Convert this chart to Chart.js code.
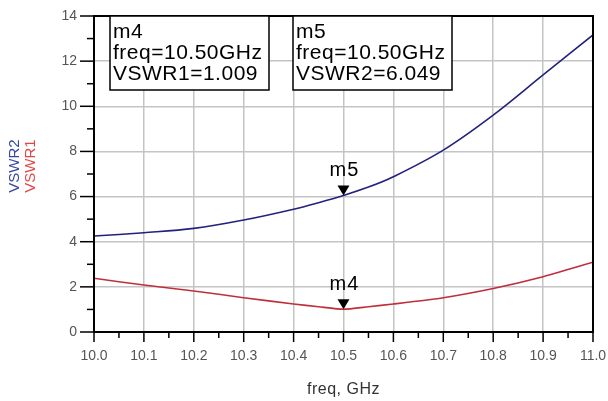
<!doctype html>
<html lang="en">
<head>
    <meta charset="utf-8">
    <title>VSWR vs freq</title>
    <style>
        html, body { margin: 0; padding: 0; background: #fff; }
        #wrap { width: 608px; height: 401px; }
    </style>
</head>
<body>
    <div id="wrap"><canvas id="myChart" width="608" height="401"></canvas></div>

    <script src="https://cdn.jsdelivr.net/npm/chart.js"></script>
    <script>
        // data
        var freq  = [10.0, 10.1, 10.2, 10.3, 10.4, 10.45, 10.5, 10.55, 10.6, 10.7, 10.8, 10.9, 11.0];
        var vswr1 = [2.38, 2.08, 1.82, 1.52, 1.24, 1.12, 1.009, 1.12, 1.24, 1.52, 1.93, 2.45, 3.09];
        var vswr2 = [4.25, 4.40, 4.59, 4.96, 5.44, 5.73, 6.049, 6.42, 6.88, 8.06, 9.61, 11.39, 13.16];

        var markers = [
            { name: 'm4', trace: 'VSWR1', freq: 10.5, value: 1.009 },
            { name: 'm5', trace: 'VSWR2', freq: 10.5, value: 6.049 }
        ];

        var blue = '#22227e';
        var red = '#bf2f3b';
        var FONT = '"Liberation Sans", Arial, sans-serif';

        function pts(xs, ys) {
            return xs.map((x, i) => ({ x: x, y: ys[i] }));
        }

        // frame, ticks, markers, marker boxes, axis titles
        var adsPlugin = {
            id: 'ads',
            afterDatasetsDraw(chart) {
                var ctx = chart.ctx;
                var a = chart.chartArea;
                var xs = chart.scales.x, ys = chart.scales.y;
                ctx.save();

                // frame
                ctx.strokeStyle = '#000';
                ctx.lineWidth = 2;
                ctx.strokeRect(a.left, a.top, a.right - a.left, a.bottom - a.top);

                // y ticks
                ctx.lineWidth = 1.5;
                for (var v = 0; v <= 14; v++) {
                    var py = ys.getPixelForValue(v);
                    var len = v % 2 === 0 ? 14 : 7;
                    ctx.beginPath();
                    ctx.moveTo(a.left - len, py);
                    ctx.lineTo(a.left, py);
                    ctx.stroke();
                }
                // x ticks
                for (var k = 0; k <= 20; k++) {
                    var px = xs.getPixelForValue(10 + k * 0.05);
                    var l2 = k % 2 === 0 ? 10 : 6;
                    ctx.beginPath();
                    ctx.moveTo(px, a.bottom);
                    ctx.lineTo(px, a.bottom + l2);
                    ctx.stroke();
                }

                // markers
                markers.forEach(m => {
                    var mx = xs.getPixelForValue(m.freq);
                    var my = ys.getPixelForValue(m.value);
                    ctx.fillStyle = '#000';
                    ctx.beginPath();
                    ctx.moveTo(mx, my);
                    ctx.lineTo(mx - 6, my - 10);
                    ctx.lineTo(mx + 6, my - 10);
                    ctx.closePath();
                    ctx.fill();
                    ctx.font = '20px ' + FONT;
                    ctx.textAlign = 'center';
                    ctx.textBaseline = 'middle';
                    ctx.letterSpacing = '1px';
                    ctx.fillText(m.name, mx + 1, my - 25);
                });

                // marker readout boxes
                var boxLeft = [a.left + 16, a.left + 199];
                markers.forEach((m, i) => {
                    var bx = boxLeft[i], by = a.top, bw = 159, bh = 74;
                    ctx.fillStyle = '#fff';
                    ctx.fillRect(bx, by, bw, bh);
                    ctx.strokeStyle = '#000';
                    ctx.lineWidth = 1.5;
                    ctx.strokeRect(bx, by, bw, bh);
                    ctx.fillStyle = '#000';
                    ctx.font = '21px ' + FONT;
                    ctx.textAlign = 'left';
                    ctx.textBaseline = 'middle';
                    ctx.letterSpacing = '0.5px';
                    ctx.fillText(m.name, bx + 3, by + 16);
                    ctx.fillText('freq=' + m.freq.toFixed(2) + 'GHz', bx + 3, by + 37);
                    ctx.fillText(m.trace + '=' + m.value.toFixed(3), bx + 3, by + 58);
                });

                // y titles
                ctx.letterSpacing = '0px';
                ctx.font = '15px ' + FONT;
                ctx.textAlign = 'center';
                ctx.textBaseline = 'middle';
                [['VSWR2', '#3646a2', 15], ['VSWR1', '#e04848', 31]].forEach(t => {
                    ctx.save();
                    ctx.translate(t[2], 166);
                    ctx.rotate(-Math.PI / 2);
                    ctx.fillStyle = t[1];
                    ctx.fillText(t[0], 0, 0);
                    ctx.restore();
                });

                // x title
                ctx.fillStyle = '#333';
                ctx.font = '16px ' + FONT;
                ctx.letterSpacing = '0.5px';
                ctx.fillText('freq, GHz', xs.getPixelForValue(10.5), 390);

                ctx.restore();
            }
        };

        new Chart('myChart', {
            type: 'line',
            data: {
                datasets: [{
                    label: 'VSWR2',
                    data: pts(freq, vswr2),
                    borderColor: blue,
                    borderWidth: 1.6,
                    pointRadius: 0,
                    tension: 0.35,
                    fill: false
                }, {
                    label: 'VSWR1',
                    data: pts(freq, vswr1),
                    borderColor: red,
                    borderWidth: 1.6,
                    pointRadius: 0,
                    tension: 0.2,
                    fill: false
                }]
            },
            options: {
                responsive: false,
                animation: false,
                layout: { padding: { left: 0, top: 16, right: 15, bottom: 0 } },
                plugins: {
                    legend: { display: false },
                    tooltip: { enabled: false }
                },
                scales: {
                    x: {
                        type: 'linear',
                        min: 10,
                        max: 11,
                        border: { display: false },
                        grid: { color: '#c4c4c4', lineWidth: 1.5, drawTicks: false },
                        ticks: {
                            stepSize: 0.1,
                            padding: 16,
                            color: '#555',
                            font: { family: FONT, size: 14 },
                            maxRotation: 0,
                            callback: v => Number(v).toFixed(1)
                        },
                        afterFit: s => { s.height = 69; s.paddingLeft = 0; s.paddingRight = 0; }
                    },
                    y: {
                        min: 0,
                        max: 14,
                        border: { display: false },
                        grid: { color: '#c4c4c4', lineWidth: 1.5, drawTicks: false },
                        ticks: {
                            stepSize: 2,
                            padding: 17,
                            color: '#555',
                            font: { family: FONT, size: 14 }
                        },
                        afterFit: s => { s.width = 94; s.paddingTop = 0; s.paddingBottom = 0; }
                    }
                }
            },
            plugins: [adsPlugin]
        });
    </script>
</body>
</html>
